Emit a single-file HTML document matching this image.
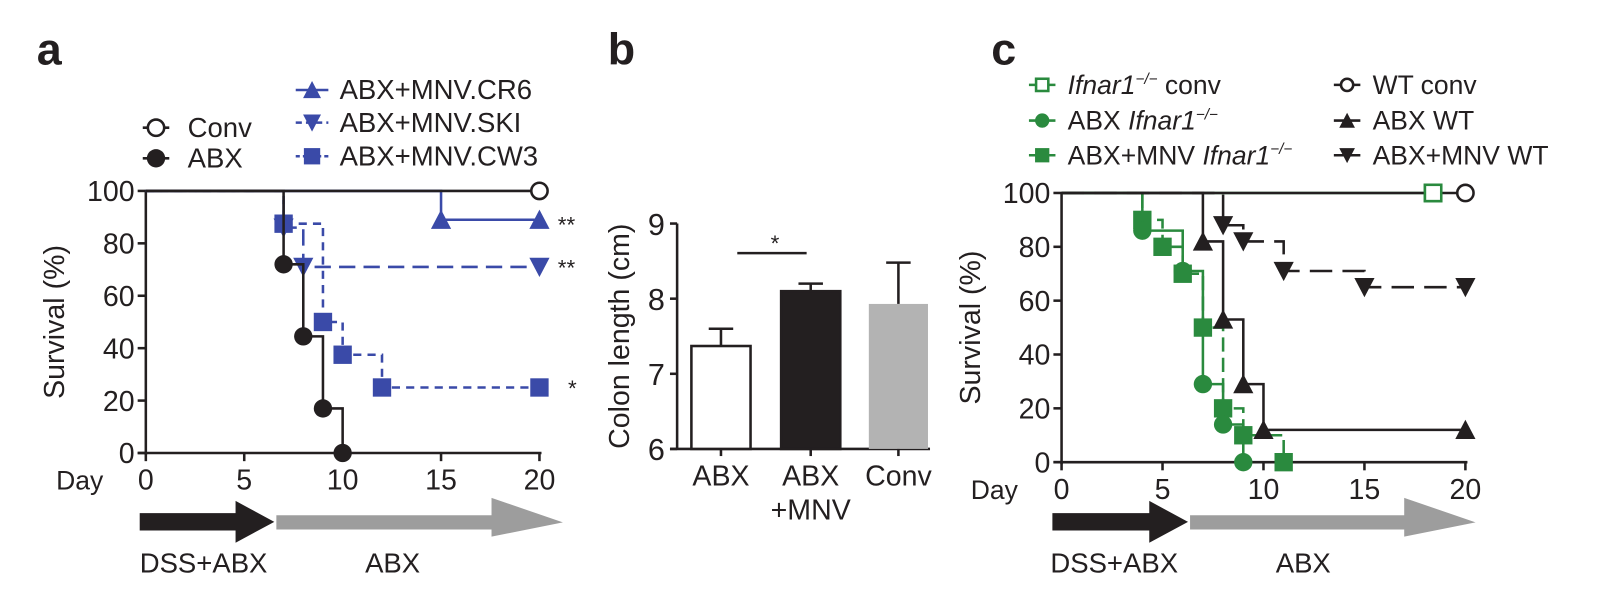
<!DOCTYPE html>
<html><head><meta charset="utf-8"><style>
html,body{margin:0;padding:0;background:#fff;}
svg{display:block;font-family:"Liberation Sans",Arial,sans-serif;}
</style></head><body>
<svg id="fig" width="1600" height="596" viewBox="0 0 1569 584">
<g id="g"></g>
</svg>
<script>
// ---- Panel a data ----
const aConvT=[0,20], aConvV=[100,100];
const aAbxT=[0,7,8,9,10], aAbxV=[100,72,44.5,17,0];
const aCr6T=[0,15,20], aCr6V=[100,89,89];
const aSkiT=[0,7,8,20], aSkiV=[100,86,71,71];
const aCw3T=[0,7,9,10,12,20], aCw3V=[100,87.5,50,37.5,25,25];
// ---- Panel b data ----
const bCats=["ABX","ABX\n+MNV","Conv"];
const bVals=[7.37,8.1,7.93];
const bErr=[0.23,0.1,0.55];
// ---- Panel c data ----
const cWtConvT=[0,20], cWtConvV=[100,100];
const cIfConvT=[0,18.4], cIfConvV=[100,100];
const cAbxWtT=[0,7,8,9,10,20], cAbxWtV=[100,82,53,29,12,12];
const cMnvWtT=[0,8,9,11,15,20], cMnvWtV=[100,88,82,71,65,65];
const cAbxIfT=[0,4,6,7,8,9], cAbxIfV=[100,86,71,29,14,0];
const cMnvIfT=[0,4,5,6,7,8,9,11], cMnvIfV=[100,90,80,70,50,20,10,0];
const xTicks=[0,5,10,15,20], aYTicks=[0,20,40,60,80,100], bYTicks=[6,7,8,9];

const NS="http://www.w3.org/2000/svg", G=document.getElementById('g');
function el(tag,attrs,parent){const e=document.createElementNS(NS,tag);for(const k in attrs)e.setAttribute(k,attrs[k]);(parent||G).appendChild(e);return e;}
function txt(x,y,s,size,anchor,extra){const t=el('text',Object.assign({x:x,y:y,'font-size':size,'text-anchor':anchor||'start',fill:'#231f20'},extra||{}));t.textContent=s;return t;}
function marker(type,x,y,color,r){
  r=r||9;
  if(type==='circle')return el('circle',{cx:x,cy:y,r:r,fill:color});
  if(type==='ocircle')return el('circle',{cx:x,cy:y,r:r-1,fill:'#fff',stroke:color,'stroke-width':2.5});
  if(type==='square')return el('rect',{x:x-r,y:y-r,width:2*r,height:2*r,fill:color});
  if(type==='osquare')return el('rect',{x:x-r+1,y:y-r+1,width:2*r-2,height:2*r-2,fill:'#fff',stroke:color,'stroke-width':2.5});
  if(type==='up')return el('polygon',{points:`${x-r*1.1},${y+r} ${x+r*1.1},${y+r} ${x},${y-r*1.1}`,fill:color});
  if(type==='down')return el('polygon',{points:`${x-r*1.1},${y-r} ${x+r*1.1},${y-r} ${x},${y+r*1.1}`,fill:color});
}
function km(T,V,sx,sy,color,dash,mk,name){
  let d=`M${sx(T[0])},${sy(V[0])}`;
  for(let i=1;i<T.length;i++){d+=` H${sx(T[i])} V${sy(V[i])}`;}
  const p=el('path',{d:d,fill:'none',stroke:color,'stroke-width':2.5,'stroke-dasharray':dash||'none'});
  
  
  for(let i=1;i<T.length;i++){const m=marker(mk,sx(T[i]),sy(V[i]),color);
    
    }
}
function axes(x0,x1,y0,y1,sx,sy,yt,label,dayX){
  el('line',{x1:x0,y1:y0+2,x2:x0,y2:y1-1,stroke:'#231f20','stroke-width':2.5});
  el('line',{x1:x0-8,y1:y0,x2:x1+2,y2:y0,stroke:'#231f20','stroke-width':2.5});
  yt.forEach(v=>{el('line',{x1:x0-8,y1:sy(v),x2:x0,y2:sy(v),stroke:'#231f20','stroke-width':2.5});
    const t=txt(x0-11,sy(v)+10,String(v),28,'end');
    
    });
  xTicks.forEach(v=>{el('line',{x1:sx(v),y1:y0,x2:sx(v),y2:y0+8,stroke:'#231f20','stroke-width':2.5});
    const t=txt(sx(v),y0+36,String(v),28,'middle');
    
    });
  txt(dayX,y0+36,'Day',26,'start');
  const yl=txt(0,0,label,28,'middle',{transform:`translate(${x0-80},${(y0+y1)/2}) rotate(-90)`});
  
  
}
function arrows(xs,xm,xe,dssX,abxX){
  el('polygon',{points:`${xs},503 ${xm-38},503 ${xm-38},491 ${xm},511.5 ${xm-38},532 ${xm-38},520 ${xs},520`,fill:'#231f20'});
  el('polygon',{points:`${xm+2},505 ${xe-70},505 ${xe-70},488 ${xe},512 ${xe-70},526 ${xe-70},519 ${xm+2},519`,fill:'#9d9d9d'});
  txt(dssX,561,'DSS+ABX',27,'start');
  txt(abxX,561,'ABX',27,'middle');
}
// Panel a
(function(){
  const x0=143,x1=529,y0=444,y1=187;
  const sx=t=>x0+(x1-x0)*t/20, sy=v=>y0+(y1-y0)*v/100;
  txt(36,63,'a',44,'start',{'font-weight':'bold'});
  axes(x0,x1,y0,y1,sx,sy,aYTicks,'Survival (%)',55);
  km(aCr6T,aCr6V,sx,sy,'#3a4aa8',null,'up','abx-mnv-cr6');
  km(aSkiT,aSkiV,sx,sy,'#3a4aa8','16 8','down','abx-mnv-ski');
  km(aCw3T,aCw3V,sx,sy,'#3a4aa8','8 6','square','abx-mnv-cw3');
  km(aAbxT,aAbxV,sx,sy,'#231f20',null,'circle','abx');
  km(aConvT,aConvV,sx,sy,'#231f20',null,'ocircle','conv');
  txt(547,228,'**',22); txt(547,270,'**',22); txt(557,388,'*',22);
  // legend
  el('line',{x1:140,y1:125,x2:166,y2:125,stroke:'#231f20','stroke-width':2.5}); marker('ocircle',153,125,'#231f20');
  txt(184,134,'Conv',27);
  el('line',{x1:140,y1:155,x2:166,y2:155,stroke:'#231f20','stroke-width':2.5}); marker('circle',153,155,'#231f20');
  txt(184,164,'ABX',27);
  [[88,'up','ABX+MNV.CR6',null],[120,'down','ABX+MNV.SKI','6 4'],[153,'square','ABX+MNV.CW3','4 3']].forEach(r=>{
    el('line',{x1:290,y1:r[0],x2:322,y2:r[0],stroke:'#3a4aa8','stroke-width':2.5,'stroke-dasharray':r[3]||'none'});
    marker(r[1],306,r[0],'#3a4aa8',8); txt(333,r[0]+9,r[2],27);});
  arrows(137,269,552,137,385);
})();
// Panel b
(function(){
  const x0=664,y0=440,y1=219;
  const sy=v=>y0+(y1-y0)*(v-6)/3;
  txt(596,63,'b',44,'start',{'font-weight':'bold'});
  el('line',{x1:x0,y1:y0,x2:x0,y2:y1,stroke:'#231f20','stroke-width':2.5});
  el('line',{x1:x0-7,y1:y0,x2:912,y2:y0,stroke:'#231f20','stroke-width':2.5});
  bYTicks.forEach(v=>{el('line',{x1:x0-7,y1:sy(v),x2:x0,y2:sy(v),stroke:'#231f20','stroke-width':2.5});txt(x0-12,sy(v)+11,String(v),30,'end');});
  const yl=txt(0,0,'Colon length (cm)',28,'middle',{transform:`translate(617,${(y0+y1)/2}) rotate(-90)`});
  
  
  const fills=['#fff','#231f20','#b3b3b3'], bw=58, cx=[707,795,881];
  bCats.forEach((c,i)=>{
    const top=sy(bVals[i]), et=sy(bVals[i]+bErr[i]);
    el('line',{x1:cx[i],y1:top,x2:cx[i],y2:et,stroke:'#231f20','stroke-width':2.5});
    el('line',{x1:cx[i]-12,y1:et,x2:cx[i]+12,y2:et,stroke:'#231f20','stroke-width':2.5});
    const b=el('rect',{x:cx[i]-bw/2,y:top,width:bw,height:y0-top,fill:fills[i],stroke:i==2?'none':'#231f20','stroke-width':2.5});
    
    
    el('line',{x1:cx[i],y1:y0,x2:cx[i],y2:y0+7,stroke:'#231f20','stroke-width':2.5});
    c.split('\n').forEach((s,j)=>txt(cx[i],y0+36+j*33,s,28,'middle'));
  });
  el('line',{x1:723,y1:248,x2:791,y2:248,stroke:'#231f20','stroke-width':2.5});
  txt(760,246,'*',22,'middle');
})();
// Panel c
(function(){
  const x0=1041,x1=1437,y0=453,y1=189;
  const sx=t=>x0+(x1-x0)*t/20, sy=v=>y0+(y1-y0)*v/100;
  const gr='#2a8a3e';
  txt(972,63,'c',44,'start',{'font-weight':'bold'});
  axes(x0,x1,y0,y1,sx,sy,aYTicks,'Survival (%)',952);
  km(cIfConvT,cIfConvV,sx,sy,gr,null,'osquare','ifnar-conv');
  km(cMnvIfT,cMnvIfV,sx,sy,gr,'14 6','square','abx-mnv-ifnar');
  km(cAbxIfT,cAbxIfV,sx,sy,gr,null,'circle','abx-ifnar');
  km(cMnvWtT,cMnvWtV,sx,sy,'#231f20','22 10','down','abx-mnv-wt');
  km(cAbxWtT,cAbxWtV,sx,sy,'#231f20',null,'up','abx-wt');
  km(cWtConvT,cWtConvV,sx,sy,'#231f20',null,'ocircle','wt-conv');
  marker('osquare',sx(cIfConvT[1]),sy(cIfConvV[1]),gr);
  const leg=[[1022,83,'osquare',gr,[['Ifnar1',1],['−/−',2],[' conv',0]]],
    [1022,118,'circle',gr,[['ABX ',0],['Ifnar1',1],['−/−',2]]],
    [1022,152,'square',gr,[['ABX+MNV ',0],['Ifnar1',1],['−/−',2]]],
    [1321,83,'ocircle','#231f20',[['WT conv',0]]],
    [1321,118,'up','#231f20',[['ABX WT',0]]],
    [1321,152,'down','#231f20',[['ABX+MNV WT',0]]]];
  leg.forEach(r=>{
    el('line',{x1:r[0]-13,y1:r[1],x2:r[0]+13,y2:r[1],stroke:r[3],'stroke-width':2.5});
    marker(r[2],r[0],r[1],r[3],7);
    const t=txt(r[0]+25,r[1]+9,'',26);
    r[4].forEach(p=>{const s=document.createElementNS(NS,'tspan');s.textContent=p[0];
      if(p[1]==1)s.setAttribute('font-style','italic');
      if(p[1]==2){s.setAttribute('font-style','italic');s.setAttribute('font-size','15');s.setAttribute('dy','-10');}
      else if(t.childNodes.length&&t.lastChild.getAttribute('dy')=='-10')s.setAttribute('dy','10');
      t.appendChild(s);});
  });
  arrows(1032,1165,1447,1030,1278);
})();
</script>
</body></html>
